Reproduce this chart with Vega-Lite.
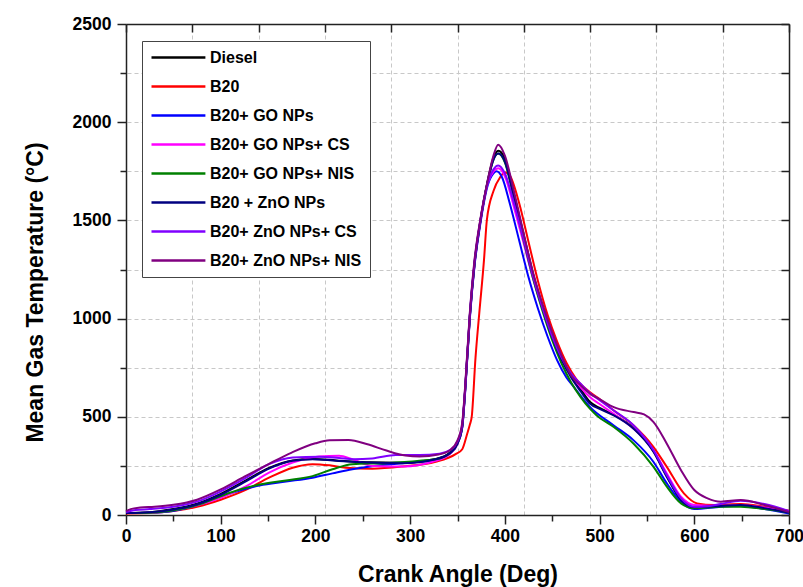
{
"$schema":"https://vega.github.io/schema/vega-lite/v6.json",
"width":663,"height":491,
"autosize":{"type":"none"},
"padding":{"left":126,"top":24,"right":14,"bottom":72},
"background":"white",
"config":{"font":"Liberation Sans","view":{"stroke":null}},
"datasets":{"curves":[
{"s":"Diesel","x":0,"y":10},{"s":"Diesel","x":25,"y":14},{"s":"Diesel","x":50,"y":30},{"s":"Diesel","x":75,"y":58},{"s":"Diesel","x":100,"y":108},{"s":"Diesel","x":127,"y":178},{"s":"Diesel","x":151,"y":240},{"s":"Diesel","x":176,"y":278},{"s":"Diesel","x":197,"y":285},{"s":"Diesel","x":222,"y":278},{"s":"Diesel","x":257,"y":268},{"s":"Diesel","x":292,"y":266},{"s":"Diesel","x":327,"y":285},{"s":"Diesel","x":342,"y":318},{"s":"Diesel","x":350,"y":368},{"s":"Diesel","x":355,"y":455},{"s":"Diesel","x":358,"y":635},{"s":"Diesel","x":363,"y":1015},{"s":"Diesel","x":368,"y":1285},{"s":"Diesel","x":374,"y":1495},{"s":"Diesel","x":382,"y":1705},{"s":"Diesel","x":388,"y":1820},{"s":"Diesel","x":393,"y":1855},{"s":"Diesel","x":400,"y":1815},{"s":"Diesel","x":410,"y":1625},{"s":"Diesel","x":420,"y":1425},{"s":"Diesel","x":430,"y":1225},{"s":"Diesel","x":440,"y":1060},{"s":"Diesel","x":450,"y":915},{"s":"Diesel","x":460,"y":800},{"s":"Diesel","x":470,"y":710},{"s":"Diesel","x":480,"y":640},{"s":"Diesel","x":490,"y":575},{"s":"Diesel","x":500,"y":545},{"s":"Diesel","x":515,"y":510},{"s":"Diesel","x":536,"y":442},{"s":"Diesel","x":557,"y":325},{"s":"Diesel","x":571,"y":198},{"s":"Diesel","x":586,"y":78},{"s":"Diesel","x":600,"y":40},{"s":"Diesel","x":628,"y":46},{"s":"Diesel","x":649,"y":52},{"s":"Diesel","x":674,"y":36},{"s":"Diesel","x":700,"y":12},
{"s":"B20","x":0,"y":8},{"s":"B20","x":25,"y":10},{"s":"B20","x":50,"y":20},{"s":"B20","x":75,"y":42},{"s":"B20","x":100,"y":78},{"s":"B20","x":127,"y":129},{"s":"B20","x":151,"y":190},{"s":"B20","x":176,"y":241},{"s":"B20","x":197,"y":259},{"s":"B20","x":215,"y":253},{"s":"B20","x":232,"y":241},{"s":"B20","x":260,"y":236},{"s":"B20","x":292,"y":247},{"s":"B20","x":327,"y":271},{"s":"B20","x":348,"y":310},{"s":"B20","x":355,"y":335},{"s":"B20","x":360,"y":410},{"s":"B20","x":363,"y":460},{"s":"B20","x":365,"y":499},{"s":"B20","x":369,"y":800},{"s":"B20","x":373,"y":1028},{"s":"B20","x":378,"y":1300},{"s":"B20","x":381,"y":1502},{"s":"B20","x":388,"y":1650},{"s":"B20","x":395,"y":1720},{"s":"B20","x":400,"y":1745},{"s":"B20","x":405,"y":1730},{"s":"B20","x":415,"y":1590},{"s":"B20","x":425,"y":1390},{"s":"B20","x":435,"y":1190},{"s":"B20","x":445,"y":1020},{"s":"B20","x":455,"y":885},{"s":"B20","x":465,"y":775},{"s":"B20","x":475,"y":695},{"s":"B20","x":490,"y":625},{"s":"B20","x":500,"y":590},{"s":"B20","x":515,"y":532},{"s":"B20","x":536,"y":456},{"s":"B20","x":557,"y":346},{"s":"B20","x":571,"y":245},{"s":"B20","x":589,"y":110},{"s":"B20","x":603,"y":59},{"s":"B20","x":621,"y":51},{"s":"B20","x":649,"y":56},{"s":"B20","x":674,"y":42},{"s":"B20","x":700,"y":22},
{"s":"B20+ GO NPs","x":0,"y":10},{"s":"B20+ GO NPs","x":25,"y":12},{"s":"B20+ GO NPs","x":46,"y":18},{"s":"B20+ GO NPs","x":81,"y":58},{"s":"B20+ GO NPs","x":109,"y":108},{"s":"B20+ GO NPs","x":141,"y":150},{"s":"B20+ GO NPs","x":169,"y":170},{"s":"B20+ GO NPs","x":197,"y":190},{"s":"B20+ GO NPs","x":218,"y":212},{"s":"B20+ GO NPs","x":239,"y":233},{"s":"B20+ GO NPs","x":268,"y":253},{"s":"B20+ GO NPs","x":292,"y":264},{"s":"B20+ GO NPs","x":327,"y":281},{"s":"B20+ GO NPs","x":342,"y":312},{"s":"B20+ GO NPs","x":350,"y":362},{"s":"B20+ GO NPs","x":355,"y":445},{"s":"B20+ GO NPs","x":358,"y":620},{"s":"B20+ GO NPs","x":363,"y":1000},{"s":"B20+ GO NPs","x":368,"y":1270},{"s":"B20+ GO NPs","x":374,"y":1480},{"s":"B20+ GO NPs","x":382,"y":1680},{"s":"B20+ GO NPs","x":388,"y":1740},{"s":"B20+ GO NPs","x":391,"y":1750},{"s":"B20+ GO NPs","x":397,"y":1720},{"s":"B20+ GO NPs","x":405,"y":1590},{"s":"B20+ GO NPs","x":415,"y":1400},{"s":"B20+ GO NPs","x":425,"y":1210},{"s":"B20+ GO NPs","x":435,"y":1050},{"s":"B20+ GO NPs","x":445,"y":910},{"s":"B20+ GO NPs","x":455,"y":790},{"s":"B20+ GO NPs","x":465,"y":700},{"s":"B20+ GO NPs","x":473,"y":651},{"s":"B20+ GO NPs","x":490,"y":549},{"s":"B20+ GO NPs","x":515,"y":456},{"s":"B20+ GO NPs","x":536,"y":380},{"s":"B20+ GO NPs","x":557,"y":270},{"s":"B20+ GO NPs","x":571,"y":161},{"s":"B20+ GO NPs","x":586,"y":68},{"s":"B20+ GO NPs","x":600,"y":30},{"s":"B20+ GO NPs","x":628,"y":42},{"s":"B20+ GO NPs","x":649,"y":47},{"s":"B20+ GO NPs","x":674,"y":30},{"s":"B20+ GO NPs","x":700,"y":8},
{"s":"B20+ GO NPs+ CS","x":0,"y":10},{"s":"B20+ GO NPs+ CS","x":25,"y":12},{"s":"B20+ GO NPs+ CS","x":50,"y":25},{"s":"B20+ GO NPs+ CS","x":75,"y":50},{"s":"B20+ GO NPs+ CS","x":100,"y":88},{"s":"B20+ GO NPs+ CS","x":127,"y":147},{"s":"B20+ GO NPs+ CS","x":151,"y":216},{"s":"B20+ GO NPs+ CS","x":176,"y":267},{"s":"B20+ GO NPs+ CS","x":204,"y":298},{"s":"B20+ GO NPs+ CS","x":225,"y":302},{"s":"B20+ GO NPs+ CS","x":239,"y":284},{"s":"B20+ GO NPs+ CS","x":260,"y":250},{"s":"B20+ GO NPs+ CS","x":292,"y":247},{"s":"B20+ GO NPs+ CS","x":327,"y":276},{"s":"B20+ GO NPs+ CS","x":342,"y":312},{"s":"B20+ GO NPs+ CS","x":350,"y":362},{"s":"B20+ GO NPs+ CS","x":355,"y":445},{"s":"B20+ GO NPs+ CS","x":358,"y":625},{"s":"B20+ GO NPs+ CS","x":363,"y":1005},{"s":"B20+ GO NPs+ CS","x":368,"y":1275},{"s":"B20+ GO NPs+ CS","x":374,"y":1485},{"s":"B20+ GO NPs+ CS","x":382,"y":1690},{"s":"B20+ GO NPs+ CS","x":388,"y":1750},{"s":"B20+ GO NPs+ CS","x":393,"y":1765},{"s":"B20+ GO NPs+ CS","x":400,"y":1725},{"s":"B20+ GO NPs+ CS","x":410,"y":1560},{"s":"B20+ GO NPs+ CS","x":420,"y":1380},{"s":"B20+ GO NPs+ CS","x":430,"y":1200},{"s":"B20+ GO NPs+ CS","x":440,"y":1045},{"s":"B20+ GO NPs+ CS","x":450,"y":905},{"s":"B20+ GO NPs+ CS","x":460,"y":795},{"s":"B20+ GO NPs+ CS","x":470,"y":712},{"s":"B20+ GO NPs+ CS","x":480,"y":650},{"s":"B20+ GO NPs+ CS","x":490,"y":600},{"s":"B20+ GO NPs+ CS","x":500,"y":565},{"s":"B20+ GO NPs+ CS","x":515,"y":515},{"s":"B20+ GO NPs+ CS","x":536,"y":439},{"s":"B20+ GO NPs+ CS","x":557,"y":330},{"s":"B20+ GO NPs+ CS","x":571,"y":211},{"s":"B20+ GO NPs+ CS","x":586,"y":93},{"s":"B20+ GO NPs+ CS","x":600,"y":51},{"s":"B20+ GO NPs+ CS","x":621,"y":47},{"s":"B20+ GO NPs+ CS","x":649,"y":51},{"s":"B20+ GO NPs+ CS","x":674,"y":38},{"s":"B20+ GO NPs+ CS","x":700,"y":17},
{"s":"B20+ GO NPs+ NIS","x":0,"y":10},{"s":"B20+ GO NPs+ NIS","x":25,"y":12},{"s":"B20+ GO NPs+ NIS","x":46,"y":20},{"s":"B20+ GO NPs+ NIS","x":81,"y":60},{"s":"B20+ GO NPs+ NIS","x":109,"y":112},{"s":"B20+ GO NPs+ NIS","x":141,"y":155},{"s":"B20+ GO NPs+ NIS","x":169,"y":176},{"s":"B20+ GO NPs+ NIS","x":197,"y":198},{"s":"B20+ GO NPs+ NIS","x":218,"y":233},{"s":"B20+ GO NPs+ NIS","x":239,"y":259},{"s":"B20+ GO NPs+ NIS","x":275,"y":264},{"s":"B20+ GO NPs+ NIS","x":310,"y":276},{"s":"B20+ GO NPs+ NIS","x":331,"y":288},{"s":"B20+ GO NPs+ NIS","x":342,"y":315},{"s":"B20+ GO NPs+ NIS","x":350,"y":365},{"s":"B20+ GO NPs+ NIS","x":355,"y":450},{"s":"B20+ GO NPs+ NIS","x":358,"y":630},{"s":"B20+ GO NPs+ NIS","x":363,"y":1010},{"s":"B20+ GO NPs+ NIS","x":368,"y":1280},{"s":"B20+ GO NPs+ NIS","x":374,"y":1490},{"s":"B20+ GO NPs+ NIS","x":382,"y":1700},{"s":"B20+ GO NPs+ NIS","x":388,"y":1810},{"s":"B20+ GO NPs+ NIS","x":393,"y":1840},{"s":"B20+ GO NPs+ NIS","x":400,"y":1795},{"s":"B20+ GO NPs+ NIS","x":410,"y":1600},{"s":"B20+ GO NPs+ NIS","x":420,"y":1395},{"s":"B20+ GO NPs+ NIS","x":430,"y":1200},{"s":"B20+ GO NPs+ NIS","x":440,"y":1035},{"s":"B20+ GO NPs+ NIS","x":450,"y":890},{"s":"B20+ GO NPs+ NIS","x":460,"y":770},{"s":"B20+ GO NPs+ NIS","x":470,"y":675},{"s":"B20+ GO NPs+ NIS","x":480,"y":600},{"s":"B20+ GO NPs+ NIS","x":490,"y":540},{"s":"B20+ GO NPs+ NIS","x":497,"y":507},{"s":"B20+ GO NPs+ NIS","x":515,"y":448},{"s":"B20+ GO NPs+ NIS","x":536,"y":363},{"s":"B20+ GO NPs+ NIS","x":557,"y":245},{"s":"B20+ GO NPs+ NIS","x":571,"y":144},{"s":"B20+ GO NPs+ NIS","x":586,"y":59},{"s":"B20+ GO NPs+ NIS","x":600,"y":34},{"s":"B20+ GO NPs+ NIS","x":628,"y":42},{"s":"B20+ GO NPs+ NIS","x":649,"y":42},{"s":"B20+ GO NPs+ NIS","x":674,"y":30},{"s":"B20+ GO NPs+ NIS","x":700,"y":12},
{"s":"B20 + ZnO NPs","x":0,"y":10},{"s":"B20 + ZnO NPs","x":25,"y":14},{"s":"B20 + ZnO NPs","x":50,"y":28},{"s":"B20 + ZnO NPs","x":75,"y":55},{"s":"B20 + ZnO NPs","x":100,"y":103},{"s":"B20 + ZnO NPs","x":127,"y":172},{"s":"B20 + ZnO NPs","x":151,"y":236},{"s":"B20 + ZnO NPs","x":176,"y":276},{"s":"B20 + ZnO NPs","x":197,"y":284},{"s":"B20 + ZnO NPs","x":222,"y":276},{"s":"B20 + ZnO NPs","x":257,"y":267},{"s":"B20 + ZnO NPs","x":292,"y":264},{"s":"B20 + ZnO NPs","x":327,"y":284},{"s":"B20 + ZnO NPs","x":342,"y":315},{"s":"B20 + ZnO NPs","x":350,"y":365},{"s":"B20 + ZnO NPs","x":355,"y":450},{"s":"B20 + ZnO NPs","x":358,"y":630},{"s":"B20 + ZnO NPs","x":363,"y":1010},{"s":"B20 + ZnO NPs","x":368,"y":1280},{"s":"B20 + ZnO NPs","x":374,"y":1490},{"s":"B20 + ZnO NPs","x":382,"y":1700},{"s":"B20 + ZnO NPs","x":388,"y":1810},{"s":"B20 + ZnO NPs","x":393,"y":1840},{"s":"B20 + ZnO NPs","x":400,"y":1800},{"s":"B20 + ZnO NPs","x":410,"y":1610},{"s":"B20 + ZnO NPs","x":420,"y":1410},{"s":"B20 + ZnO NPs","x":430,"y":1215},{"s":"B20 + ZnO NPs","x":440,"y":1050},{"s":"B20 + ZnO NPs","x":450,"y":905},{"s":"B20 + ZnO NPs","x":460,"y":790},{"s":"B20 + ZnO NPs","x":470,"y":700},{"s":"B20 + ZnO NPs","x":480,"y":630},{"s":"B20 + ZnO NPs","x":490,"y":566},{"s":"B20 + ZnO NPs","x":500,"y":540},{"s":"B20 + ZnO NPs","x":515,"y":507},{"s":"B20 + ZnO NPs","x":536,"y":439},{"s":"B20 + ZnO NPs","x":557,"y":321},{"s":"B20 + ZnO NPs","x":571,"y":194},{"s":"B20 + ZnO NPs","x":586,"y":76},{"s":"B20 + ZnO NPs","x":600,"y":39},{"s":"B20 + ZnO NPs","x":628,"y":46},{"s":"B20 + ZnO NPs","x":649,"y":51},{"s":"B20 + ZnO NPs","x":674,"y":35},{"s":"B20 + ZnO NPs","x":700,"y":12},
{"s":"B20+ ZnO NPs+ CS","x":0,"y":15},{"s":"B20+ ZnO NPs+ CS","x":10,"y":25},{"s":"B20+ ZnO NPs+ CS","x":25,"y":30},{"s":"B20+ ZnO NPs+ CS","x":50,"y":42},{"s":"B20+ ZnO NPs+ CS","x":75,"y":68},{"s":"B20+ ZnO NPs+ CS","x":100,"y":120},{"s":"B20+ ZnO NPs+ CS","x":127,"y":190},{"s":"B20+ ZnO NPs+ CS","x":151,"y":259},{"s":"B20+ ZnO NPs+ CS","x":176,"y":293},{"s":"B20+ ZnO NPs+ CS","x":204,"y":297},{"s":"B20+ ZnO NPs+ CS","x":225,"y":290},{"s":"B20+ ZnO NPs+ CS","x":240,"y":284},{"s":"B20+ ZnO NPs+ CS","x":260,"y":288},{"s":"B20+ ZnO NPs+ CS","x":285,"y":305},{"s":"B20+ ZnO NPs+ CS","x":310,"y":305},{"s":"B20+ ZnO NPs+ CS","x":331,"y":312},{"s":"B20+ ZnO NPs+ CS","x":342,"y":330},{"s":"B20+ ZnO NPs+ CS","x":350,"y":375},{"s":"B20+ ZnO NPs+ CS","x":355,"y":460},{"s":"B20+ ZnO NPs+ CS","x":358,"y":640},{"s":"B20+ ZnO NPs+ CS","x":363,"y":1020},{"s":"B20+ ZnO NPs+ CS","x":368,"y":1290},{"s":"B20+ ZnO NPs+ CS","x":374,"y":1495},{"s":"B20+ ZnO NPs+ CS","x":382,"y":1690},{"s":"B20+ ZnO NPs+ CS","x":388,"y":1760},{"s":"B20+ ZnO NPs+ CS","x":393,"y":1780},{"s":"B20+ ZnO NPs+ CS","x":400,"y":1740},{"s":"B20+ ZnO NPs+ CS","x":410,"y":1580},{"s":"B20+ ZnO NPs+ CS","x":420,"y":1400},{"s":"B20+ ZnO NPs+ CS","x":430,"y":1210},{"s":"B20+ ZnO NPs+ CS","x":440,"y":1050},{"s":"B20+ ZnO NPs+ CS","x":450,"y":910},{"s":"B20+ ZnO NPs+ CS","x":460,"y":800},{"s":"B20+ ZnO NPs+ CS","x":470,"y":720},{"s":"B20+ ZnO NPs+ CS","x":480,"y":668},{"s":"B20+ ZnO NPs+ CS","x":490,"y":620},{"s":"B20+ ZnO NPs+ CS","x":500,"y":585},{"s":"B20+ ZnO NPs+ CS","x":515,"y":532},{"s":"B20+ ZnO NPs+ CS","x":536,"y":456},{"s":"B20+ ZnO NPs+ CS","x":557,"y":330},{"s":"B20+ ZnO NPs+ CS","x":571,"y":203},{"s":"B20+ ZnO NPs+ CS","x":586,"y":85},{"s":"B20+ ZnO NPs+ CS","x":600,"y":42},{"s":"B20+ ZnO NPs+ CS","x":614,"y":45},{"s":"B20+ ZnO NPs+ CS","x":628,"y":56},{"s":"B20+ ZnO NPs+ CS","x":649,"y":73},{"s":"B20+ ZnO NPs+ CS","x":674,"y":56},{"s":"B20+ ZnO NPs+ CS","x":700,"y":20},
{"s":"B20+ ZnO NPs+ NIS","x":0,"y":20},{"s":"B20+ ZnO NPs+ NIS","x":5,"y":30},{"s":"B20+ ZnO NPs+ NIS","x":15,"y":38},{"s":"B20+ ZnO NPs+ NIS","x":30,"y":42},{"s":"B20+ ZnO NPs+ NIS","x":50,"y":52},{"s":"B20+ ZnO NPs+ NIS","x":75,"y":78},{"s":"B20+ ZnO NPs+ NIS","x":100,"y":130},{"s":"B20+ ZnO NPs+ NIS","x":125,"y":195},{"s":"B20+ ZnO NPs+ NIS","x":150,"y":258},{"s":"B20+ ZnO NPs+ NIS","x":175,"y":318},{"s":"B20+ ZnO NPs+ NIS","x":200,"y":365},{"s":"B20+ ZnO NPs+ NIS","x":215,"y":380},{"s":"B20+ ZnO NPs+ NIS","x":235,"y":382},{"s":"B20+ ZnO NPs+ NIS","x":255,"y":360},{"s":"B20+ ZnO NPs+ NIS","x":275,"y":328},{"s":"B20+ ZnO NPs+ NIS","x":295,"y":303},{"s":"B20+ ZnO NPs+ NIS","x":310,"y":298},{"s":"B20+ ZnO NPs+ NIS","x":330,"y":308},{"s":"B20+ ZnO NPs+ NIS","x":342,"y":330},{"s":"B20+ ZnO NPs+ NIS","x":350,"y":380},{"s":"B20+ ZnO NPs+ NIS","x":355,"y":470},{"s":"B20+ ZnO NPs+ NIS","x":358,"y":650},{"s":"B20+ ZnO NPs+ NIS","x":363,"y":1028},{"s":"B20+ ZnO NPs+ NIS","x":368,"y":1300},{"s":"B20+ ZnO NPs+ NIS","x":374,"y":1502},{"s":"B20+ ZnO NPs+ NIS","x":382,"y":1706},{"s":"B20+ ZnO NPs+ NIS","x":388,"y":1830},{"s":"B20+ ZnO NPs+ NIS","x":393,"y":1885},{"s":"B20+ ZnO NPs+ NIS","x":400,"y":1830},{"s":"B20+ ZnO NPs+ NIS","x":410,"y":1640},{"s":"B20+ ZnO NPs+ NIS","x":420,"y":1430},{"s":"B20+ ZnO NPs+ NIS","x":430,"y":1230},{"s":"B20+ ZnO NPs+ NIS","x":440,"y":1070},{"s":"B20+ ZnO NPs+ NIS","x":450,"y":930},{"s":"B20+ ZnO NPs+ NIS","x":460,"y":810},{"s":"B20+ ZnO NPs+ NIS","x":470,"y":710},{"s":"B20+ ZnO NPs+ NIS","x":480,"y":660},{"s":"B20+ ZnO NPs+ NIS","x":490,"y":617},{"s":"B20+ ZnO NPs+ NIS","x":500,"y":590},{"s":"B20+ ZnO NPs+ NIS","x":515,"y":549},{"s":"B20+ ZnO NPs+ NIS","x":536,"y":524},{"s":"B20+ ZnO NPs+ NIS","x":547,"y":512},{"s":"B20+ ZnO NPs+ NIS","x":557,"y":473},{"s":"B20+ ZnO NPs+ NIS","x":571,"y":363},{"s":"B20+ ZnO NPs+ NIS","x":586,"y":228},{"s":"B20+ ZnO NPs+ NIS","x":600,"y":127},{"s":"B20+ ZnO NPs+ NIS","x":614,"y":85},{"s":"B20+ ZnO NPs+ NIS","x":628,"y":68},{"s":"B20+ ZnO NPs+ NIS","x":649,"y":76},{"s":"B20+ ZnO NPs+ NIS","x":674,"y":51},{"s":"B20+ ZnO NPs+ NIS","x":700,"y":15}
]},
"data":{"name":"curves"},
"layer":[
{"mark":{"type":"line","opacity":0},
 "encoding":{
  "x":{"field":"x","type":"quantitative","scale":{"domain":[0,700],"nice":false,"zero":false},
   "axis":{"orient":"top","values":[0,70,140,210,280,350,420,490,560,630,700],"labels":false,"title":null,"grid":true,"gridColor":"#c8c8c8","gridDash":[4,3],"gridWidth":1,"tickSize":-8,"tickColor":"#222","tickWidth":1.5,"domainColor":"#222","domainWidth":1.5}},
  "y":{"field":"y","type":"quantitative","scale":{"domain":[0,2500],"nice":false},
   "axis":{"orient":"right","values":[0,250,500,750,1000,1250,1500,1750,2000,2250,2500],"labels":false,"title":null,"grid":true,"gridColor":"#c8c8c8","gridDash":[4,3],"gridWidth":1,"tickSize":-8,"tickColor":"#222","tickWidth":1.5,"domainColor":"#222","domainWidth":1.5}},
  "detail":{"field":"s"}}},
{"mark":{"type":"line","interpolate":"monotone","strokeWidth":2},
 "encoding":{
  "x":{"field":"x","type":"quantitative","scale":{"domain":[0,700],"nice":false,"zero":false},
   "axis":{"orient":"bottom","values":[0,50,100,150,200,250,300,350,400,450,500,550,600,650,700],"labelExpr":"datum.value % 100 === 0 ? datum.label : ''","grid":false,"title":"Crank Angle (Deg)","titleFontSize":23,"titleFontWeight":"bold","titleColor":"#000","titlePadding":19,"labelFontSize":17.5,"labelFontWeight":"bold","labelColor":"#000","labelPadding":3,"labelFlush":false,"labelOverlap":false,"tickColor":"#222","tickWidth":1.5,"tickSize":{"condition":{"test":"datum.value % 100 === 0","value":9},"value":6},"domainColor":"#222","domainWidth":1.5}},
  "y":{"field":"y","type":"quantitative","scale":{"domain":[0,2500],"nice":false},
   "axis":{"orient":"left","values":[0,250,500,750,1000,1250,1500,1750,2000,2250,2500],"labelExpr":"datum.value % 500 === 0 ? datum.label : ''","format":"d","grid":false,"title":"Mean Gas Temperature (°C)","titleFontSize":23,"titleFontWeight":"bold","titleColor":"#000","titlePadding":25,"titleY":268,"labelFontSize":17.5,"labelFontWeight":"bold","labelColor":"#000","labelPadding":6,"labelOverlap":false,"tickColor":"#222","tickWidth":1.5,"tickSize":{"condition":{"test":"datum.value % 500 === 0","value":9},"value":6},"domainColor":"#222","domainWidth":1.5}},
  "color":{"field":"s","type":"nominal","sort":null,
   "scale":{"domain":["Diesel","B20","B20+ GO NPs","B20+ GO NPs+ CS","B20+ GO NPs+ NIS","B20 + ZnO NPs","B20+ ZnO NPs+ CS","B20+ ZnO NPs+ NIS"],
            "range":["#000000","#ff0000","#0000ff","#ff00ff","#008000","#000080","#8000ff","#800080"]},
   "legend":{"orient":"none","legendX":16,"legendY":17,"title":null,"symbolType":"M-1,0L6.7,0","symbolSize":196,"symbolStrokeWidth":2.5,"labelFontSize":16,"labelFontWeight":"bold","labelColor":"#000","labelOffset":43,"rowPadding":12,"padding":8,"strokeColor":"#444","fillColor":"white","labelLimit":300}}}}
],
"resolve":{"axis":{"x":"independent","y":"independent"}}
}
